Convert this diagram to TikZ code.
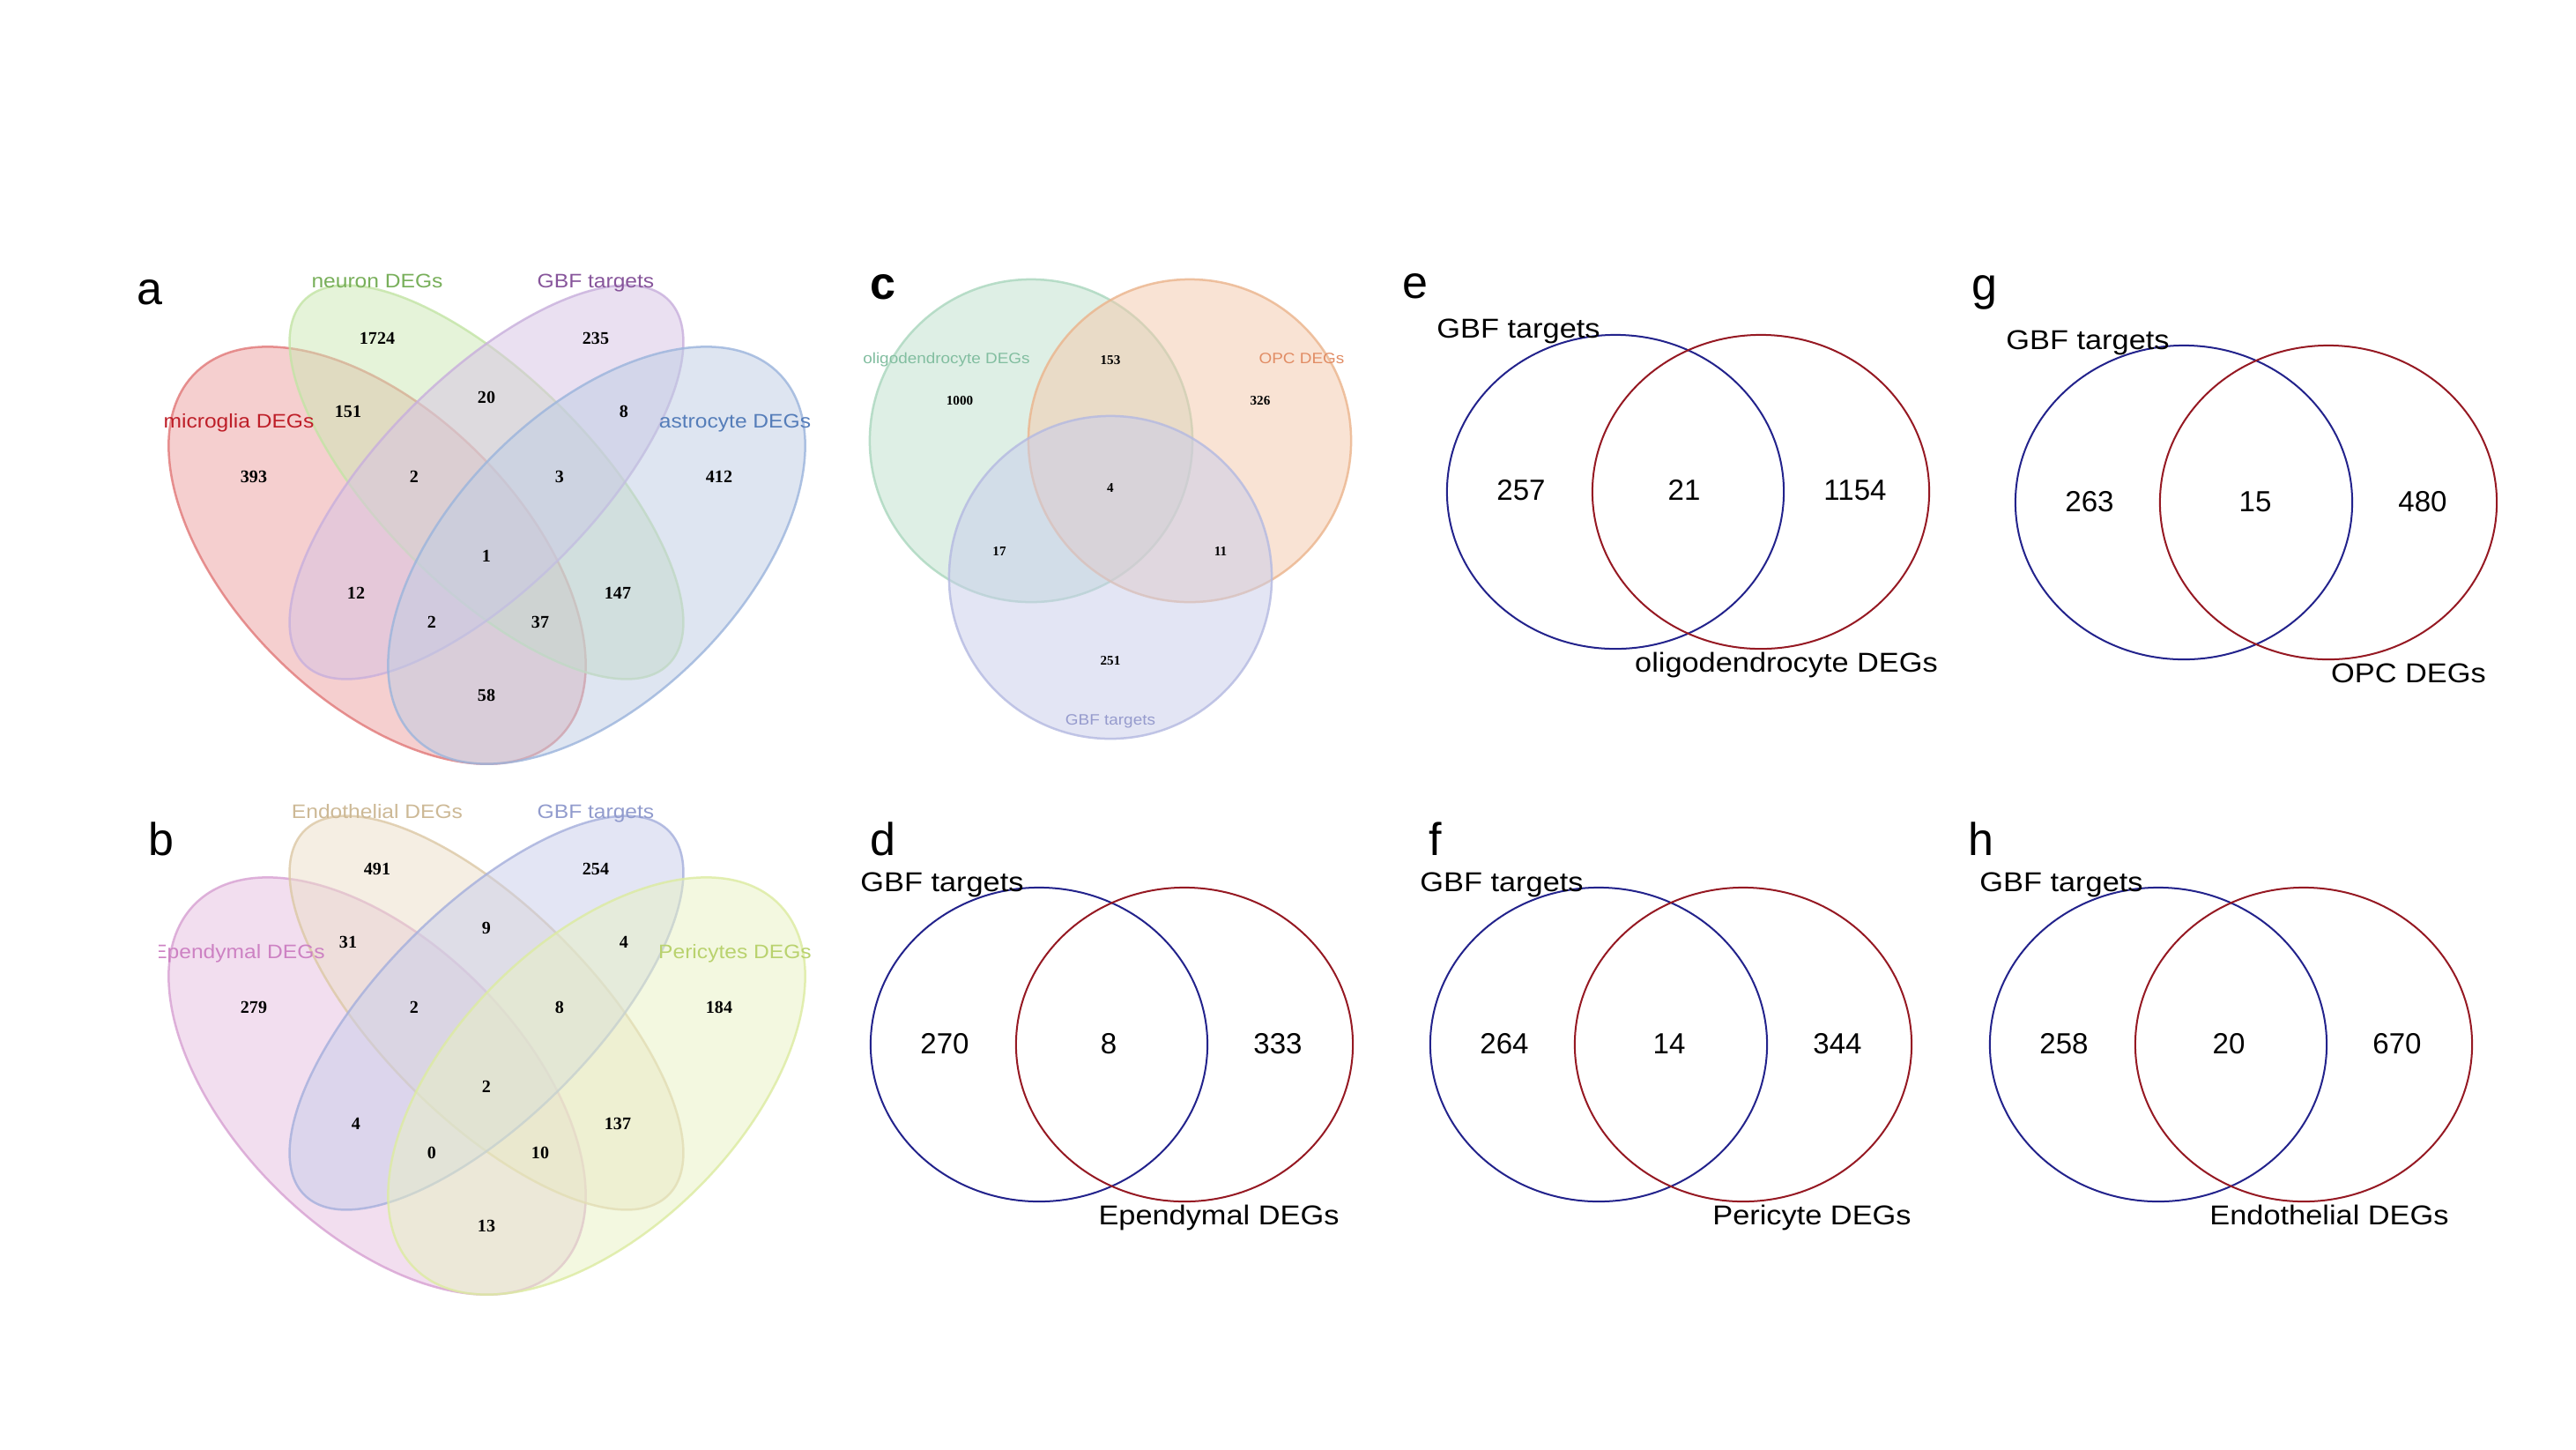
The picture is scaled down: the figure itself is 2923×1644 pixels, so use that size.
\documentclass[tikz,border=0pt]{standalone}
\usepackage{fontspec}
\setmainfont{Liberation Sans}
\newfontfamily\widefont{Liberation Sans}[FakeStretch=1.11]
\newfontfamily\timesfont{Liberation Serif}
\usetikzlibrary{positioning}

% panel a colours
\definecolor{mgFill}{RGB}{236,160,160}
\definecolor{mgLine}{RGB}{225,120,120}
\definecolor{mgText}{RGB}{190,30,40}
\definecolor{nrFill}{RGB}{205,232,180}
\definecolor{nrLine}{RGB}{195,228,165}
\definecolor{nrText}{RGB}{120,175,90}
\definecolor{gaFill}{RGB}{215,195,228}
\definecolor{gaLine}{RGB}{200,175,220}
\definecolor{gaText}{RGB}{135,85,155}
\definecolor{asFill}{RGB}{190,205,228}
\definecolor{asLine}{RGB}{155,180,220}
\definecolor{asText}{RGB}{85,125,185}
% panel b colours
\definecolor{epFill}{RGB}{230,190,225}
\definecolor{epLine}{RGB}{215,160,210}
\definecolor{epText}{RGB}{205,130,195}
\definecolor{enFill}{RGB}{236,222,200}
\definecolor{enLine}{RGB}{220,200,165}
\definecolor{enText}{RGB}{205,185,150}
\definecolor{gbFill}{RGB}{200,205,235}
\definecolor{gbLine}{RGB}{165,175,220}
\definecolor{gbText}{RGB}{145,155,205}
\definecolor{peFill}{RGB}{232,242,195}
\definecolor{peLine}{RGB}{220,235,160}
\definecolor{peText}{RGB}{185,210,110}
% panel c colours
\definecolor{olFill}{RGB}{190,225,205}
\definecolor{olLine}{RGB}{170,215,190}
\definecolor{olText}{RGB}{130,190,160}
\definecolor{opFill}{RGB}{245,200,170}
\definecolor{opLine}{RGB}{235,180,140}
\definecolor{opText}{RGB}{225,140,100}
\definecolor{gcFill}{RGB}{200,205,235}
\definecolor{gcLine}{RGB}{180,185,225}
\definecolor{gcText}{RGB}{150,155,205}
% two-set rings
\definecolor{ringBlue}{RGB}{35,35,140}
\definecolor{ringRed}{RGB}{150,25,35}

\begin{document}
\begin{tikzpicture}[
      x=0.01cm, y=-0.01cm,
      tag/.style={anchor=base west, inner sep=0pt, font=\fontsize{14.8}{17}\selectfont},
      qlabel/.style={anchor=base, inner sep=0pt, font=\widefont\fontsize{6.3}{7}\selectfont},
      qcount/.style={anchor=base, inner sep=0pt, font=\timesfont\bfseries\fontsize{5.7}{6}\selectfont},
      tlabel/.style={anchor=base, inner sep=0pt, font=\widefont\fontsize{4.85}{6}\selectfont},
      tcount/.style={anchor=base, inner sep=0pt, font=\timesfont\bfseries\fontsize{4.3}{5}\selectfont},
      vlabel/.style={anchor=base, inner sep=0pt, font=\widefont\fontsize{8.8}{10}\selectfont},
      vcount/.style={anchor=base, inner sep=0pt, font=\fontsize{9.4}{11}\selectfont},
      vset/.style 2 args={fill=#1, draw=#2, fill opacity=0.5, draw opacity=0.8, line width=0.025cm},
      bluering/.style={draw=ringBlue, line width=0.02cm},
      redring/.style={draw=ringRed, line width=0.02cm}
    ]
      \fill[white] (0,0) rectangle (2923,1644);
      \useasboundingbox (0,0) rectangle (2923,1644);

      % Panel letters
      \node[tag] (tagA) at (155,345) {a};
      \node[tag] (tagB) at (168,970) {b};
      \node[tag, font=\fontsize{14.8}{17}\selectfont\bfseries] (tagC) at (987,339) {c};
      \node[tag] (tagD) at (987,970) {d};
      \node[tag] (tagE) at (1591,338) {e};
      \node[tag] (tagF) at (1621,970) {f};
      \node[tag] (tagG) at (2237,340) {g};
      \node[tag] (tagH) at (2233,970) {h};

      % a: four-set diagram
      \filldraw[vset={mgFill}{mgLine}, rotate around={-45:(428,630)}] (428,630) ellipse [x radius=2.92cm, y radius=1.63cm];
      \filldraw[vset={nrFill}{nrLine}, rotate around={-45:(552,547)}] (552,547) ellipse [x radius=2.92cm, y radius=1.2cm];
      \filldraw[vset={gaFill}{gaLine}, rotate around={45:(552,547)}] (552,547) ellipse [x radius=2.92cm, y radius=1.2cm];
      \filldraw[vset={asFill}{asLine}, rotate around={45:(677,630)}] (677,630) ellipse [x radius=2.92cm, y radius=1.63cm];

      \node[qlabel, text=nrText] (aNeuron) at (428,326) {neuron DEGs};
      \node[qlabel, text=gaText] (aGbf) at (676,326) {GBF targets};
      \node[qlabel, text=mgText] (aMicro) at (271,485) {microglia DEGs};
      \node[qlabel, text=asText] (aAstro) at (834,485) {astrocyte DEGs};

      \node[qcount] (a1) at (428,390) {1724};
      \node[qcount] (a2) at (676,390) {235};
      \node[qcount] (a3) at (395,473) {151};
      \node[qcount] (a4) at (552,457) {20};
      \node[qcount] (a5) at (708,473) {8};
      \node[qcount] (a6) at (288,547) {393};
      \node[qcount] (a7) at (470,547) {2};
      \node[qcount] (a8) at (635,547) {3};
      \node[qcount] (a9) at (816,547) {412};
      \node[qcount] (a10) at (552,637) {1};
      \node[qcount] (a11) at (404,679) {12};
      \node[qcount] (a12) at (701,679) {147};
      \node[qcount] (a13) at (490,712) {2};
      \node[qcount] (a14) at (613,712) {37};
      \node[qcount] (a15) at (552,795) {58};

      % b: same layout, one row down
      \begin{scope}[shift={(0,602)}]
        \filldraw[vset={epFill}{epLine}, rotate around={-45:(428,630)}] (428,630) ellipse [x radius=2.92cm, y radius=1.63cm];
        \filldraw[vset={enFill}{enLine}, rotate around={-45:(552,547)}] (552,547) ellipse [x radius=2.92cm, y radius=1.2cm];
        \filldraw[vset={gbFill}{gbLine}, rotate around={45:(552,547)}] (552,547) ellipse [x radius=2.92cm, y radius=1.2cm];
        \filldraw[vset={peFill}{peLine}, rotate around={45:(677,630)}] (677,630) ellipse [x radius=2.92cm, y radius=1.63cm];

        \node[qlabel, text=enText] (bEndo) at (428,326) {Endothelial DEGs};
        \node[qlabel, text=gbText] (bGbf) at (676,326) {GBF targets};
        \begin{scope}
          \clip (180,420) rectangle (420,520);
          \node[qlabel, text=epText] (bEpen) at (271,485) {Ependymal DEGs};
        \end{scope}
        \node[qlabel, text=peText] (bPeri) at (834,485) {Pericytes DEGs};

        \node[qcount] (b1) at (428,390) {491};
        \node[qcount] (b2) at (676,390) {254};
        \node[qcount] (b3) at (395,473) {31};
        \node[qcount] (b4) at (552,457) {9};
        \node[qcount] (b5) at (708,473) {4};
        \node[qcount] (b6) at (288,547) {279};
        \node[qcount] (b7) at (470,547) {2};
        \node[qcount] (b8) at (635,547) {8};
        \node[qcount] (b9) at (816,547) {184};
        \node[qcount] (b10) at (552,637) {2};
        \node[qcount] (b11) at (404,679) {4};
        \node[qcount] (b12) at (701,679) {137};
        \node[qcount] (b13) at (490,712) {0};
        \node[qcount] (b14) at (613,712) {10};
        \node[qcount] (b15) at (552,795) {13};
      \end{scope}

      % c: three-set diagram
      \filldraw[vset={olFill}{olLine}] (1170,500) circle [radius=1.83cm];
      \filldraw[vset={opFill}{opLine}] (1350,500) circle [radius=1.83cm];
      \filldraw[vset={gcFill}{gcLine}] (1260,655) circle [radius=1.83cm];

      \node[tlabel, text=olText] (cOligo) at (1074,412) {oligodendrocyte DEGs};
      \node[tlabel, text=opText] (cOpc) at (1477,412) {OPC DEGs};
      \node[tlabel, text=gcText] (cGbf) at (1260,822) {GBF targets};

      \node[tcount] (c1) at (1260,413) {153};
      \node[tcount] (c2) at (1089,459) {1000};
      \node[tcount] (c3) at (1430,459) {326};
      \node[tcount] (c4) at (1260,558) {4};
      \node[tcount] (c5) at (1134,630) {17};
      \node[tcount] (c6) at (1385,630) {11};
      \node[tcount] (c7) at (1260,754) {251};

      % d: GBF targets vs ependymal
      \draw[bluering] (1179,1185) ellipse [x radius=1.91cm, y radius=1.78cm];
      \draw[redring] (1344,1185) ellipse [x radius=1.91cm, y radius=1.78cm];
      \node[vlabel] (dGbf) at (1069,1011) {GBF targets};
      \node[vlabel] (dSet) at (1383,1389) {Ependymal DEGs};
      \node[vcount] (d1) at (1072,1195) {270};
      \node[vcount] (d2) at (1258,1195) {8};
      \node[vcount] (d3) at (1450,1195) {333};

      % e: GBF targets vs oligodendrocyte
      \draw[bluering] (1833,558) ellipse [x radius=1.91cm, y radius=1.78cm];
      \draw[redring] (1998,558) ellipse [x radius=1.91cm, y radius=1.78cm];
      \node[vlabel] (eGbf) at (1723,383) {GBF targets};
      \node[vlabel] (eSet) at (2027,762) {oligodendrocyte DEGs};
      \node[vcount] (e1) at (1726,567) {257};
      \node[vcount] (e2) at (1911,567) {21};
      \node[vcount] (e3) at (2105,567) {1154};

      % f: GBF targets vs pericyte
      \draw[bluering] (1814,1185) ellipse [x radius=1.91cm, y radius=1.78cm];
      \draw[redring] (1978,1185) ellipse [x radius=1.91cm, y radius=1.78cm];
      \node[vlabel] (fGbf) at (1704,1011) {GBF targets};
      \node[vlabel] (fSet) at (2056,1389) {Pericyte DEGs};
      \node[vcount] (f1) at (1707,1195) {264};
      \node[vcount] (f2) at (1894,1195) {14};
      \node[vcount] (f3) at (2085,1195) {344};

      % g: GBF targets vs OPC
      \draw[bluering] (2478,570) ellipse [x radius=1.91cm, y radius=1.78cm];
      \draw[redring] (2642,570) ellipse [x radius=1.91cm, y radius=1.78cm];
      \node[vlabel] (gGbf) at (2369,396) {GBF targets};
      \node[vlabel] (gSet) at (2733,774) {OPC DEGs};
      \node[vcount] (g1) at (2371,580) {263};
      \node[vcount] (g2) at (2559,580) {15};
      \node[vcount] (g3) at (2749,580) {480};

      % h: GBF targets vs endothelial
      \draw[bluering] (2449,1185) ellipse [x radius=1.91cm, y radius=1.78cm];
      \draw[redring] (2614,1185) ellipse [x radius=1.91cm, y radius=1.78cm];
      \node[vlabel] (hGbf) at (2339,1011) {GBF targets};
      \node[vlabel] (hSet) at (2643,1389) {Endothelial DEGs};
      \node[vcount] (h1) at (2342,1195) {258};
      \node[vcount] (h2) at (2529,1195) {20};
      \node[vcount] (h3) at (2720,1195) {670};
    \end{tikzpicture}
\end{document}
